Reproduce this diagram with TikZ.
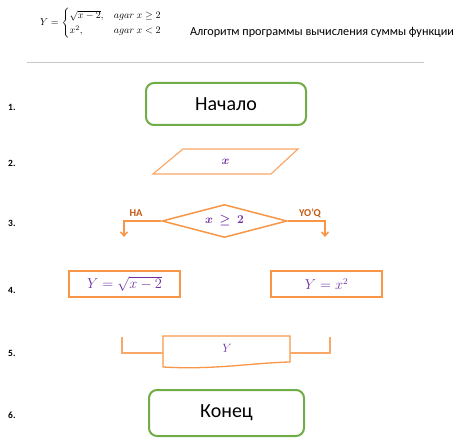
\documentclass[tikz,border=0pt]{standalone}
\usepackage{amsmath}
\usepackage{fontspec}
\setmainfont{Carlito}
\newfontfamily\tnr{Liberation Serif}
\usetikzlibrary{shapes.geometric,arrows.meta}
\definecolor{grn}{HTML}{70AD47}
\definecolor{org}{HTML}{F79646}
\definecolor{orgl}{HTML}{F9A86A}
\definecolor{orgd}{HTML}{C55A11}
\definecolor{purp}{HTML}{7030A0}
\definecolor{gry}{HTML}{C8C8C8}
\begin{document}
\begin{tikzpicture}[x=1pt,y=-1pt,
  term/.style={draw=grn, line width=2pt, rounded corners=8pt, inner sep=0pt,
    font=\fontsize{20}{24}\selectfont},
  proc/.style={draw=org, line width=2pt, inner sep=0pt, minimum width=111pt,
    minimum height=26pt, text=purp, font=\fontsize{13.5}{16}\selectfont},
  num/.style={anchor=west, inner sep=0pt, font=\bfseries\fontsize{9.5}{10}\selectfont},
  lbl/.style={inner sep=0pt, text=orgd, font=\bfseries\fontsize{10.5}{11}\selectfont},
  flow/.style={draw=org, line width=1.5pt, -{Straight Barb[length=4pt,width=7pt]}},
  thin/.style={draw=orgl, line width=1.2pt}
]
\useasboundingbox (0,0) rectangle (467,444);
% header
\node[inner sep=0pt, font=\fontsize{10.2}{12.5}\selectfont] (formula) at (101,23.5)
  {\def\arraystretch{0.95}$Y=\begin{cases}\sqrt{x-2}, & agar\ x\ge 2\\ x^{2}, & agar\ x<2\end{cases}$};
\node[inner sep=0pt, font=\fontsize{12.2}{14}\selectfont] (title) at (322,32)
  {Алгоритм программы вычисления суммы функции};
\coordinate (rl) at (27,63);
\coordinate (rr) at (424,63);
\draw[gry, line width=1pt] (rl) -- (rr);
% numbers
\node[num] (n1) at (8,107) {1.};
\node[num] (n2) at (8,163) {2.};
\node[num] (n3) at (8,223) {3.};
\node[num] (n4) at (8,290) {4.};
\node[num] (n5) at (8,353) {5.};
\node[num] (n6) at (8,415) {6.};
% start
\node[term, minimum width=160pt, minimum height=42pt] (start) at (226,104) {Начало};
% input
\coordinate (p1) at (183,149);
\coordinate (p2) at (298,149);
\coordinate (p3) at (271,174);
\coordinate (p4) at (153,174);
\draw[thin] (p1) -- (p2) -- (p3) -- (p4) -- cycle;
\node[text=purp, inner sep=0pt, font=\fontsize{13}{15}\selectfont] (inp) at (225.5,162) {$\boldsymbol{x}$};
% decision
\node[diamond, draw=org, line width=1.5pt, minimum width=125pt, minimum height=33pt,
  inner sep=0pt, shape aspect=3.8, text=purp, font=\fontsize{13}{15}\selectfont]
  (dec) at (224.5,221) {$\boldsymbol{x\ \ge\ 2}$};
\coordinate (la) at (124,237);
\coordinate (ra) at (325,237);
\draw[flow] (dec.west) -| (la);
\draw[flow] (dec.east) -| (ra);
\node[lbl] (ha) at (136,213) {HA};
\node[lbl] (yoq) at (310,213) {YO’Q};
% processes
\node[proc] (b1) at (124.5,284) {$Y=\sqrt{x-2}$};
\node[proc] (b2) at (326.5,284) {$Y=x^{2}$};
% output
\coordinate (d1) at (163,336);
\coordinate (d2) at (290,336);
\coordinate (d3) at (290,362);
\coordinate (d4) at (163,367);
\draw[draw=org, line width=1.3pt] (d4) -- (d1) -- (d2) -- (d3)
  .. controls (250,363) and (215,370) .. (d4);
\node[text=purp, inner sep=0pt, font=\fontsize{12}{14}\selectfont] (outv) at (227,348) {$Y$};
\coordinate (bl1) at (122,337);
\coordinate (bl2) at (163,353);
\coordinate (br1) at (330,337);
\coordinate (br2) at (290,353);
\draw[thin] (bl1) |- (bl2);
\draw[thin] (br1) |- (br2);
% end
\node[term, minimum width=155pt, minimum height=46pt] (end) at (226.5,413) {Конец};
\end{tikzpicture}
\end{document}
